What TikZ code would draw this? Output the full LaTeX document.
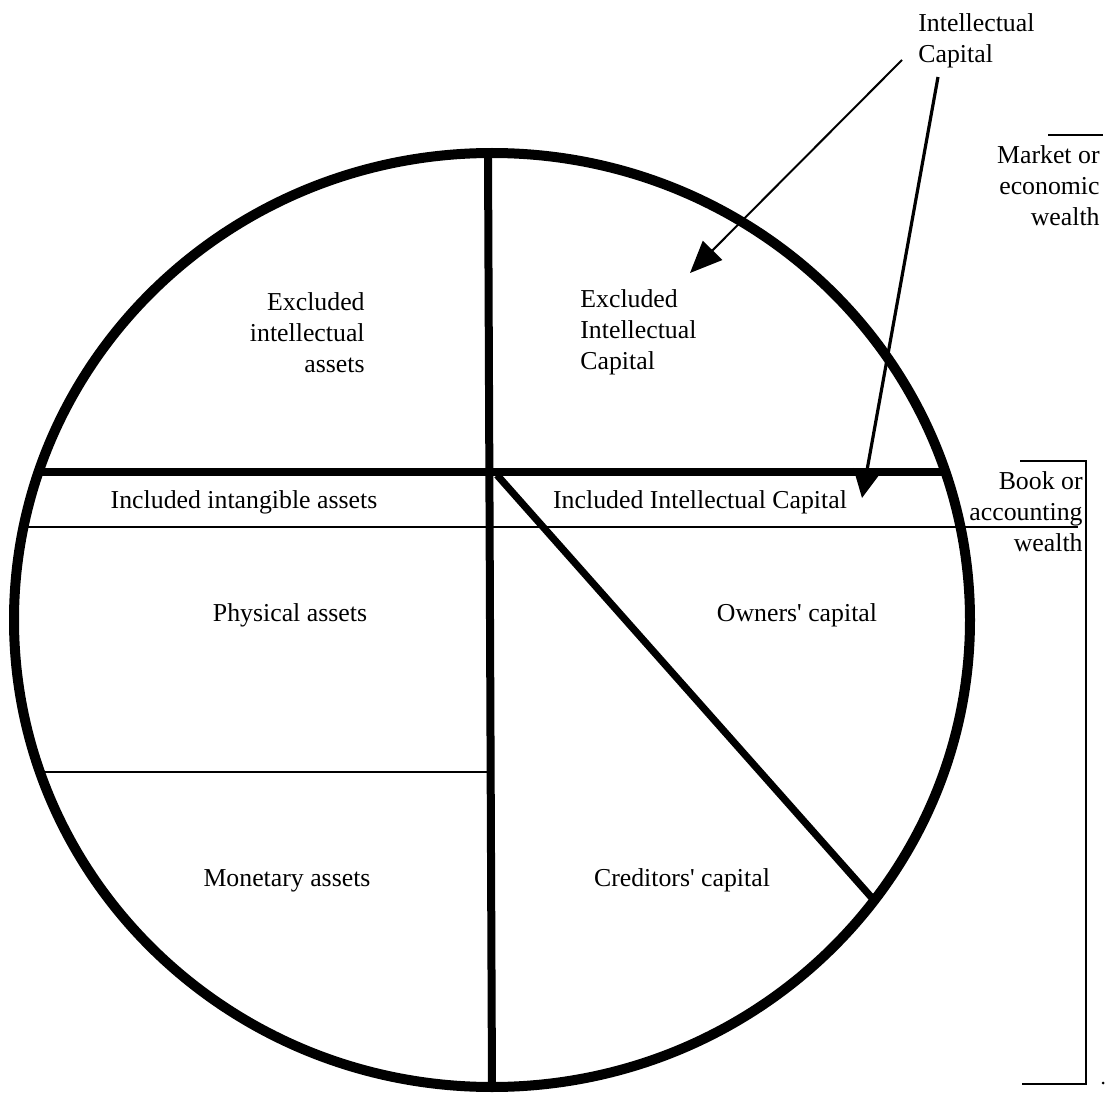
\documentclass[tikz,border=0pt]{standalone}
\usepackage{fontspec}
\setmainfont{Liberation Serif}
\usetikzlibrary{arrows.meta}
\tikzset{
  rim/.style={line width=5pt},
  divider/.style={line width=3.6pt},
  hairline/.style={line width=1pt},
  bracket/.style={line width=1.4pt},
  label/.style={font=\fontsize{12.9}{15.5}\selectfont, inner sep=0pt},
}
\begin{document}
\begin{tikzpicture}[x=0.5pt, y=-0.5pt]
  \useasboundingbox (0,0) rectangle (1105,1097);
  \coordinate (C)  at (492,620);
  \coordinate (VT) at (488,152);
  \coordinate (VB) at (492,1087);
  \coordinate (HL) at (38.6,472);
  \coordinate (HR) at (945.4,472);
  \coordinate (BL) at (23.6,527);
  \coordinate (BR) at (1078,527);
  \coordinate (ML) at (40,772);
  \coordinate (MR) at (490.7,772);
  \coordinate (DT) at (497,475);
  \coordinate (DB) at (872,898);
  \coordinate (A1) at (902,60);
  \coordinate (T1) at (690,273);
  \coordinate (A2) at (938,77);
  \coordinate (T2) at (862,498);

  % circle and its sections
  \draw[rim] (C) ellipse [x radius=478, y radius=467];
  \draw[line width=4pt] (VT)--(VB);
  \draw[divider] (HL)--(HR);
  \draw[divider] (DT)--(DB);
  \draw[hairline] (BL)--(BR);
  \draw[hairline] (ML)--(MR);

  % brackets on the right
  \draw[bracket] (1048,135)--(1103,135);
  \draw[bracket] (1020,461)--(1086,461)--(1086,1084)--(1022,1084);
  \fill (1103,1083) circle [radius=1.5];

  % arrows from the label
  \draw[line width=1pt, -{Triangle[length=16pt, width=13.5pt]}] (A1)--(T1);
  \draw[line width=1.6pt, -{Triangle[length=14pt, width=13.5pt]}] (A2)--(T2);

  \node[label, align=left, anchor=north west]  (ic)  at (918,13)   {Intellectual\\Capital};
  \node[label, align=right, anchor=north east] (mkt) at (1100,145) {Market or\\economic\\wealth};
  \node[label, align=right, anchor=north east] (bk)  at (1083,471) {Book or\\accounting\\wealth};
  \node[label, align=right, anchor=north east] (exa) at (365,292)  {Excluded\\intellectual\\assets};
  \node[label, align=left, anchor=north west]  (exc) at (580,289)  {Excluded\\Intellectual\\Capital};
  \node[label, anchor=base] (inca) at (244,508) {Included intangible assets};
  \node[label, anchor=base] (incc) at (700,508) {Included Intellectual Capital};
  \node[label, anchor=base] (phy)  at (290,621) {Physical assets};
  \node[label, anchor=base] (own)  at (797,621) {Owners\textquotesingle{} capital};
  \node[label, anchor=base] (mon)  at (287,886) {Monetary assets};
  \node[label, anchor=base] (cred) at (682,886) {Creditors\textquotesingle{} capital};
\end{tikzpicture}
\end{document}
